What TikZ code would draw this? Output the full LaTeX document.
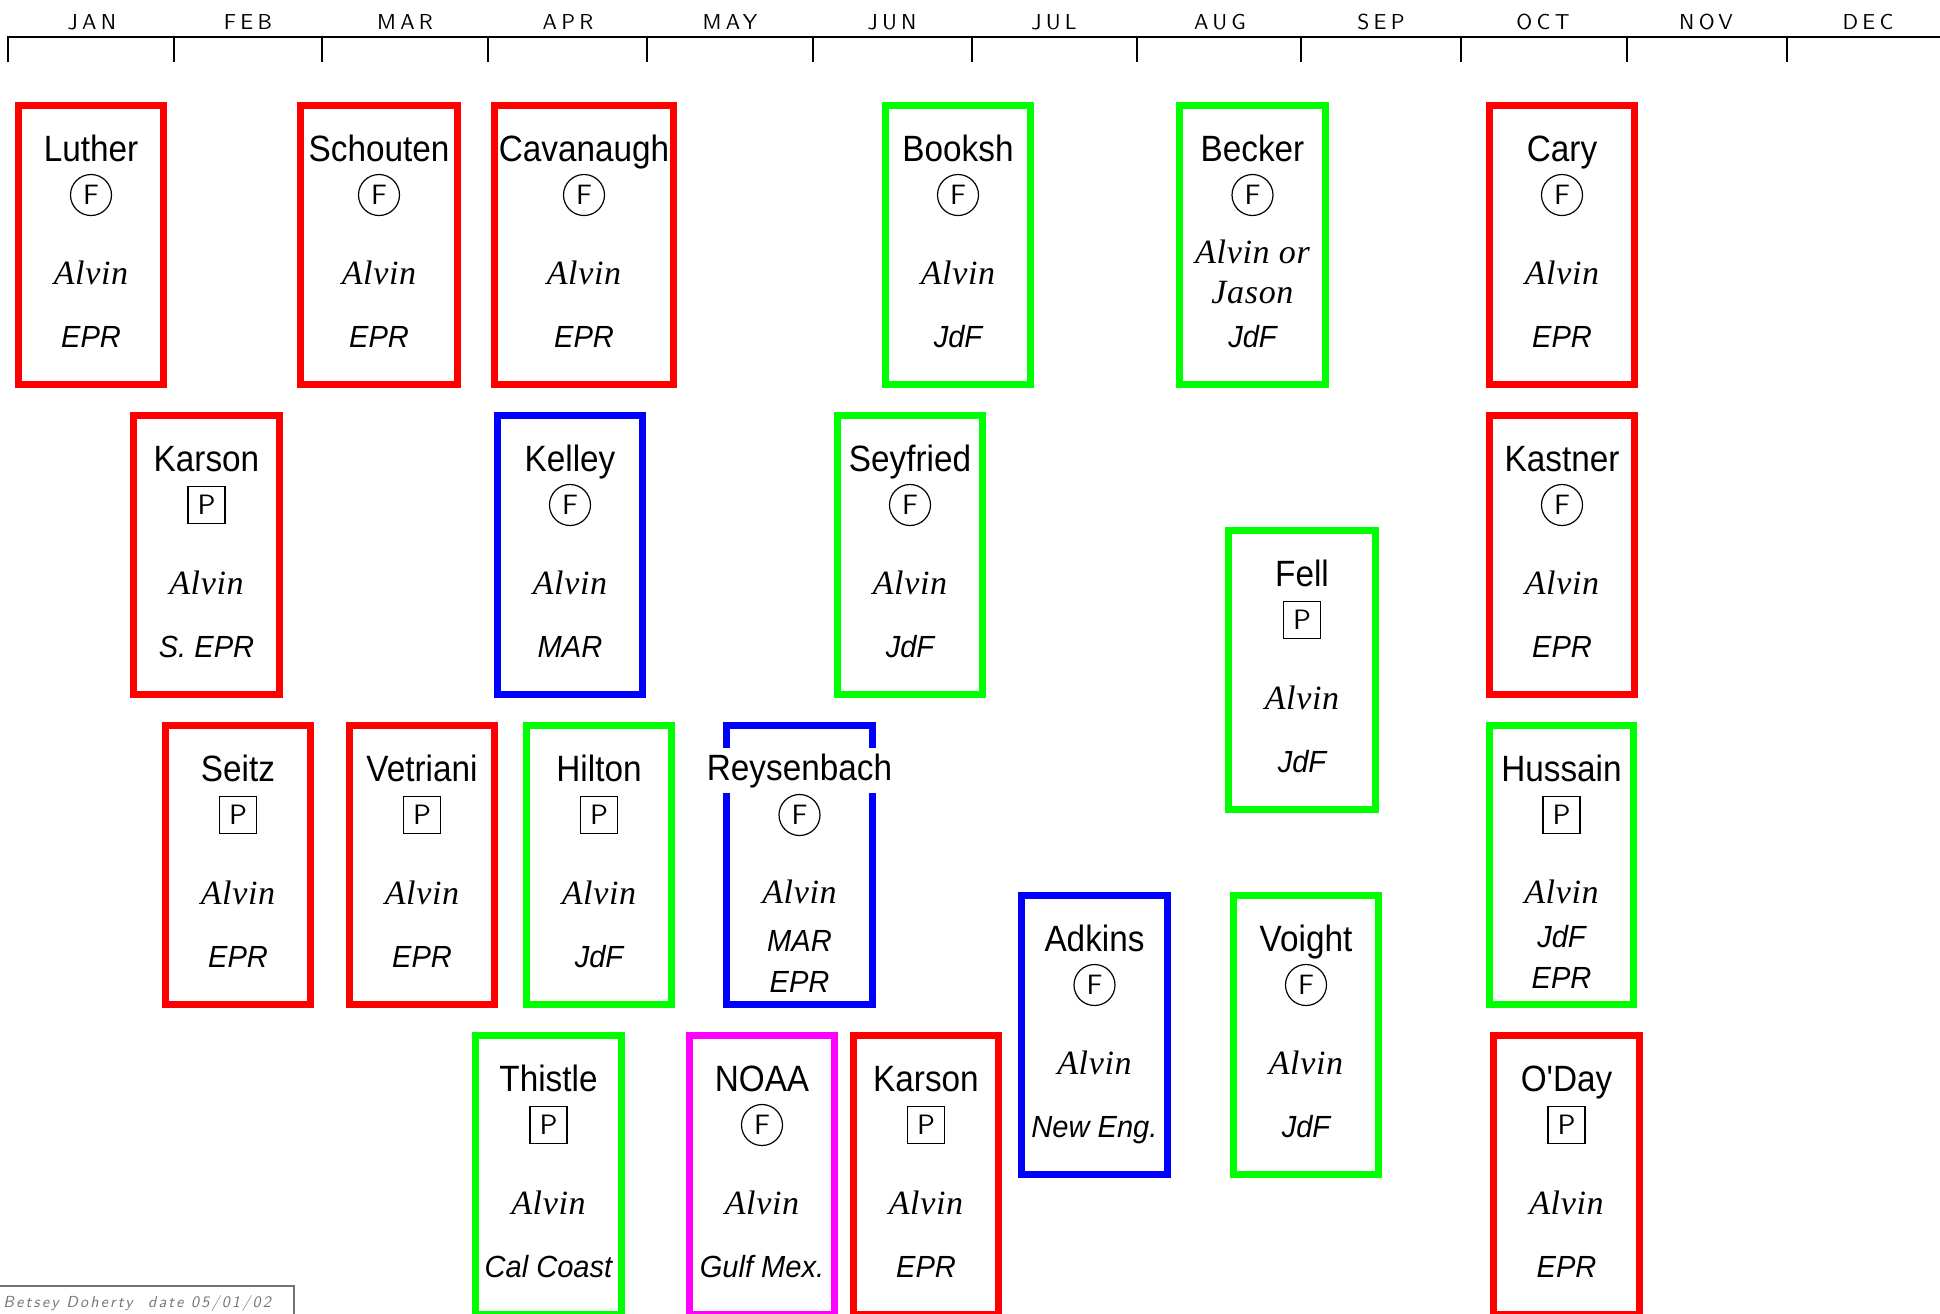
\documentclass[tikz,border=0pt]{standalone}
\usepackage{fontspec}
\newfontfamily\nmfont{Liberation Sans}[FakeStretch=0.91]
\newfontfamily\locfont{Liberation Sans}[FakeStretch=0.95]
\newfontfamily\serfont{Liberation Serif}[LetterSpace=2]
\newfontfamily\thinfont{lmsans10}[Extension=.otf, UprightFont=*-regular, ItalicFont=*-oblique, LetterSpace=20]
\newfontfamily\footfont{lmsans10}[Extension=.otf, UprightFont=*-regular, ItalicFont=*-oblique, LetterSpace=14]
\newfontfamily\symfont{lmsans10}[Extension=.otf, UprightFont=*-regular]
\definecolor{cred}{RGB}{255,0,0}
\definecolor{cgreen}{RGB}{0,255,0}
\definecolor{cblue}{RGB}{0,0,255}
\definecolor{cmag}{RGB}{255,0,255}
\definecolor{footgray}{RGB}{115,115,115}
\tikzset{
  tripbox/.style={draw, line width=3.5pt, outer sep=0pt, inner sep=0pt, minimum height=139.5pt, anchor=north west},
  ttl/.style={anchor=base, inner sep=0pt, font=\nmfont\fontsize{18.3}{20}\selectfont},
  fsym/.style={circle, draw, line width=0.6pt, minimum size=20.5pt, inner sep=0pt, font=\symfont\fontsize{14}{14}\selectfont},
  psym/.style={rectangle, draw, line width=0.6pt, minimum size=18.5pt, inner sep=0pt, font=\symfont\fontsize{14}{14}\selectfont},
  ves/.style={anchor=base, inner sep=0pt, font=\serfont\itshape\fontsize{17}{19}\selectfont},
  loc/.style={anchor=base, inner sep=0pt, font=\locfont\itshape\fontsize{15.3}{17}\selectfont},
  mon/.style={anchor=base, inner sep=0pt, font=\thinfont\fontsize{10.8}{12}\selectfont},
  axisline/.style={line width=1.1pt},
  tickline/.style={line width=0.7pt},
}
\newcommand\fsymtext{F}
\newcommand\psymtext{P}
% id, colour, left, top, width, title, symbol style
\newcommand\trip[7]{%
  \pgfmathsetmacro\tcx{#3+#5/2}%
  \pgfmathsetmacro\ttop{#4}%
  \node[tripbox, draw=#2, minimum width={(#5-7)*0.5pt}] (#1) at (#3+3.5,#4+3.5) {};
  \node[ttl] (#1-name) at (\tcx,#4+59) {#6};
  \node[#7] (#1-sym) at (\tcx,#4+93) {\csname #7text\endcsname};
}
\newcommand\vesl[3]{\node[ves] (#1) at (\tcx,\ttop+#2) {#3};}
\newcommand\locl[3]{\node[loc] (#1) at (\tcx,\ttop+#2) {#3};}
\newcommand\std[2]{\vesl{#1-v}{182}{Alvin}\locl{#1-l}{245}{#2}}
\begin{document}
\begin{tikzpicture}[x=0.5pt,y=-0.5pt]
\fill[white] (0,0) rectangle (1940,1313);
\useasboundingbox (0,0) rectangle (1940,1313);
% month axis
\draw[axisline] (8,62) -- (8,37) -- (1940,37);
\foreach \t in {174,322,488,647,813,972,1137,1301,1461,1627,1787}
  \draw[tickline] (\t,37) -- (\t,62);
\node[mon] (jan) at (92,29) {JAN};
\node[mon] (feb) at (248,29) {FEB};
\node[mon] (mar) at (405,29) {MAR};
\node[mon] (apr) at (568,29) {APR};
\node[mon] (may) at (730,29) {MAY};
\node[mon] (jun) at (892,29) {JUN};
\node[mon] (jul) at (1054,29) {JUL};
\node[mon] (aug) at (1220,29) {AUG};
\node[mon] (sep) at (1381,29) {SEP};
\node[mon] (oct) at (1543,29) {OCT};
\node[mon] (nov) at (1706,29) {NOV};
\node[mon] (dec) at (1868,29) {DEC};
% row 1
\trip{luther}{cred}{15}{102}{152}{Luther}{fsym}\std{luther}{EPR}
\trip{schouten}{cred}{297}{102}{164}{Schouten}{fsym}\std{schouten}{EPR}
\trip{cavanaugh}{cred}{491}{102}{186}{Cavanaugh}{fsym}\std{cavanaugh}{EPR}
\trip{booksh}{cgreen}{882}{102}{152}{Booksh}{fsym}\std{booksh}{JdF}
\trip{becker}{cgreen}{1176}{102}{153}{Becker}{fsym}
\vesl{becker-v}{161}{Alvin or}
\vesl{becker-v2}{201}{Jason}
\locl{becker-l}{245}{JdF}
\trip{cary}{cred}{1486}{102}{152}{Cary}{fsym}\std{cary}{EPR}
% row 2
\trip{karson1}{cred}{130}{412}{153}{Karson}{psym}\std{karson1}{S. EPR}
\trip{kelley}{cblue}{494}{412}{152}{Kelley}{fsym}\std{kelley}{MAR}
\trip{seyfried}{cgreen}{834}{412}{152}{Seyfried}{fsym}\std{seyfried}{JdF}
\trip{kastner}{cred}{1486}{412}{152}{Kastner}{fsym}\std{kastner}{EPR}
\trip{fell}{cgreen}{1225}{527}{154}{Fell}{psym}\std{fell}{JdF}
% row 3
\trip{seitz}{cred}{162}{722}{152}{Seitz}{psym}\std{seitz}{EPR}
\trip{vetriani}{cred}{346}{722}{152}{Vetriani}{psym}\std{vetriani}{EPR}
\trip{hilton}{cgreen}{523}{722}{152}{Hilton}{psym}\std{hilton}{JdF}
\trip{reysenbach}{cblue}{723}{722}{153}{}{fsym}
\node[ttl, fill=white, inner sep=2.5pt] (reysenbach-title) at (\tcx,722+58) {Reysenbach};
\vesl{reysenbach-v}{181}{Alvin}
\locl{reysenbach-l}{229}{MAR}
\locl{reysenbach-l2}{270}{EPR}
\trip{hussain}{cgreen}{1486}{722}{151}{Hussain}{psym}
\vesl{hussain-v}{181}{Alvin}
\locl{hussain-l}{225}{JdF}
\locl{hussain-l2}{266}{EPR}
\trip{adkins}{cblue}{1018}{892}{153}{Adkins}{fsym}\std{adkins}{New Eng.}
\trip{voight}{cgreen}{1230}{892}{152}{Voight}{fsym}\std{voight}{JdF}
% row 4
\trip{thistle}{cgreen}{472}{1032}{153}{Thistle}{psym}\std{thistle}{Cal Coast}
\trip{noaa}{cmag}{686}{1032}{152}{NOAA}{fsym}\std{noaa}{Gulf Mex.}
\trip{karson2}{cred}{850}{1032}{152}{Karson}{psym}\std{karson2}{EPR}
\trip{oday}{cred}{1490}{1032}{153}{O'Day}{psym}\std{oday}{EPR}
% footer
\draw[footgray, line width=0.6pt] (0,1286) -- (294,1286) -- (294,1320);
\node[anchor=base west, inner sep=0pt, text=footgray, font=\footfont\itshape\fontsize{8}{9}\selectfont] (sig) at (3,1307) {Betsey Doherty\ \ date 05/01/02};
\end{tikzpicture}
\end{document}
